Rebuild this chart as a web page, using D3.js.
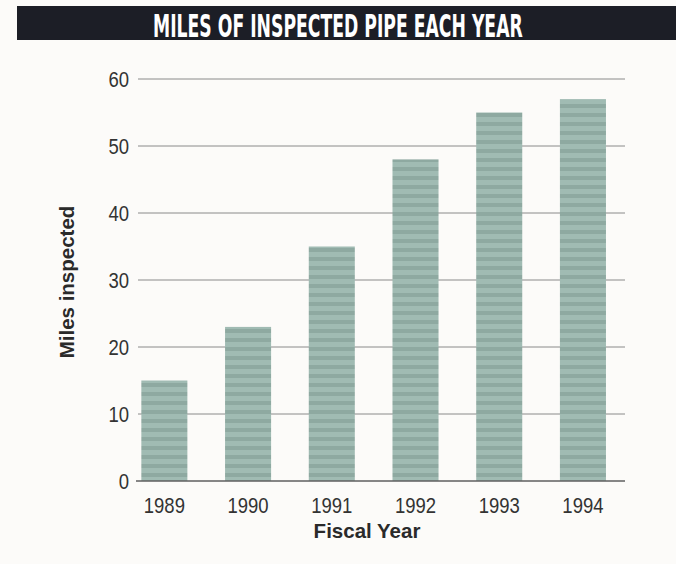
<!DOCTYPE html>
<html>
<head>
<meta charset="utf-8">
<script src="https://cdn.jsdelivr.net/npm/d3@7"></script>
<style>
  html, body { margin: 0; padding: 0; background: #fcfbf9; }
  svg { display: block; }
  .tick-label { font-family: 'Liberation Sans', Arial, sans-serif; font-size: 22px; fill: #333; }
  .axis-title { font-family: 'Liberation Sans', Arial, sans-serif; font-weight: bold; font-size: 20.5px; fill: #2a2a2a; }
</style>
</head>
<body>
<svg id="chart" width="676" height="564"></svg>
<script>
'use strict';
// Data
const years = ['1989', '1990', '1991', '1992', '1993', '1994'];
const miles = [15, 23, 35, 48, 55, 57];
const yTicks = [0, 10, 20, 30, 40, 50, 60];

const svg = d3.select('#chart');
const plot = { left: 138, right: 625, top: 79, bottom: 481 };
const digitWidth = 10.3; // condensed look for tick labels

const x = d3.scaleBand()
    .domain(years)
    .range([122.5, 624.8])
    .paddingInner(0.45)
    .paddingOuter(0.225);

const y = d3.scaleLinear()
    .domain([0, 60])
    .range([plot.bottom, plot.top]);

// squeeze a text horizontally to a given width, anchored at (ax, ay)
function squeeze(sel, ax, ay, width) {
    sel.each(function (d) {
        const node = this;
        const w = node.getComputedTextLength();
        const sx = width(d) / w;
        d3.select(node).attr('transform',
            'translate(' + ax(d) + ',' + ay(d) + ') scale(' + sx + ',1)');
    });
}

// bar texture
const defs = svg.append('defs');
const pat = defs.append('pattern')
    .attr('id', 'barFill')
    .attr('patternUnits', 'userSpaceOnUse')
    .attr('width', 4)
    .attr('height', 9);
pat.append('rect').attr('width', 4).attr('height', 9).attr('fill', '#a0bbb3');
pat.append('rect').attr('y', 5).attr('width', 4).attr('height', 4).attr('fill', '#8ea9a1');

// title band
svg.append('rect')
    .attr('x', 17).attr('y', 6)
    .attr('width', 659).attr('height', 34)
    .attr('fill', '#1c1e26');

const title = svg.append('text')
    .style('font-family', "'DejaVu Sans Condensed', 'Liberation Sans', sans-serif")
    .style('font-weight', 'bold')
    .style('font-size', '32px')
    .style('fill', '#ffffff')
    .text('MILES OF INSPECTED PIPE EACH YEAR');
squeeze(title, () => 153, () => 37, () => 370);

// gridlines
svg.append('g')
    .selectAll('line')
    .data(yTicks.filter(t => t > 0))
    .enter()
    .append('line')
    .attr('x1', plot.left).attr('x2', plot.right)
    .attr('y1', d => y(d)).attr('y2', d => y(d))
    .attr('stroke', '#8a8a8a')
    .attr('stroke-width', 1);

// y tick labels
const yLabels = svg.append('g')
    .selectAll('text')
    .data(yTicks)
    .enter()
    .append('text')
    .attr('class', 'tick-label')
    .attr('dy', '0.36em')
    .attr('text-anchor', 'end')
    .text(d => d);
squeeze(yLabels, () => 129, d => y(d), d => String(d).length * digitWidth);

// bars
svg.append('g')
    .selectAll('rect')
    .data(years.map((yr, i) => ({ year: yr, value: miles[i] })))
    .enter()
    .append('rect')
    .attr('x', d => x(d.year))
    .attr('y', d => y(d.value))
    .attr('width', x.bandwidth())
    .attr('height', d => y(0) - y(d.value))
    .attr('fill', 'url(#barFill)');

// baseline
svg.append('line')
    .attr('x1', plot.left - 2).attr('x2', plot.right)
    .attr('y1', y(0)).attr('y2', y(0))
    .attr('stroke', '#5f5f5f')
    .attr('stroke-width', 1.5);

// x tick labels
const xLabels = svg.append('g')
    .selectAll('text')
    .data(years)
    .enter()
    .append('text')
    .attr('class', 'tick-label')
    .attr('text-anchor', 'middle')
    .text(d => d);
squeeze(xLabels, d => x(d) + x.bandwidth() / 2, () => 513, d => d.length * digitWidth);

// axis titles
svg.append('text')
    .attr('class', 'axis-title')
    .attr('x', 367).attr('y', 538)
    .attr('text-anchor', 'middle')
    .text('Fiscal Year');

svg.append('text')
    .attr('class', 'axis-title')
    .attr('transform', 'translate(74,282) rotate(-90)')
    .attr('text-anchor', 'middle')
    .text('Miles inspected');
</script>
</body>
</html>
